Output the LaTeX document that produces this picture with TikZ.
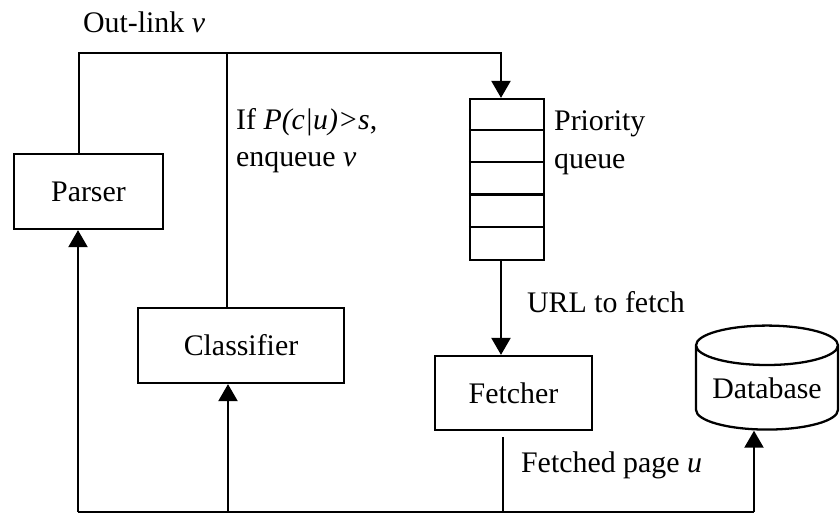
\documentclass[tikz,border=0pt]{standalone}
\usepackage{fontspec}
\setmainfont{Liberation Serif}
\usetikzlibrary{arrows.meta, shapes.geometric, positioning}
\tikzset{
    box/.style = {draw, rectangle, inner sep=0pt},
    txt/.style = {inner sep=0pt, align=left},
    flow/.style = {-{Triangle[length=0.34cm, width=0.38cm]}}
}

\begin{document}
\begin{tikzpicture}[x=0.02cm, y=-0.02cm, line width=1.3pt, font=\fontsize{17}{21.5}\selectfont]
    \useasboundingbox (0,0) rectangle (840,514);

    \node[box, minimum width=2.98cm, minimum height=1.5cm] (parser) at (88.5,191.5) {Parser};
    \node[box, minimum width=4.12cm, minimum height=1.5cm] (classifier) at (241,345.5) {Classifier};
    \node[box, minimum width=1.48cm, minimum height=3.22cm] (queue) at (507,179.5) {};
    \node[box, minimum width=3.14cm, minimum height=1.48cm] (fetcher) at (513.5,393) {Fetcher};
    \node[draw, cylinder, shape border rotate=90, aspect=0.36, inner sep=0pt,
          minimum width=2.84cm, minimum height=2.08cm] (db) at (767,388) {Database};

    % queue cells
    \foreach \i in {1,...,4}
        \draw (queue.north west) ++(0,\i*32.2) -- ++(74,0);

    \coordinate (outlink) at (79,53);
    \coordinate (turn) at (501,53);
    \coordinate (cl) at (227,53);
    \coordinate (ca) at (228,512);
    \coordinate (bl) at (78,512);
    \coordinate (br) at (754,512);
    \coordinate (fl) at (503,437);

    \draw[flow] (outlink |- parser.north) -- (outlink) -- (turn) -- (turn |- queue.north);
    \draw (cl |- classifier.north) -- (cl);
    \draw[flow] (turn |- queue.south) -- (turn |- fetcher.north);
    \draw (bl) -- (br);
    \draw[flow] (bl) -- (bl |- parser.south);
    \draw[flow] (ca) -- (ca |- classifier.south);
    \draw (fl) -- (fl |- bl);
    \draw[flow] (br) -- (br |- db.south);

    \node[txt, anchor=base west] (outlab) at (82,32) {Out-link \textit{v}};
    \node[txt, anchor=north west] (condlab) at (235,107) {If \textit{P(c|u)>s},\\enqueue \textit{v}};
    \node[txt, anchor=north west] (queuelab) at (553,110) {Priority\\queue};
    \node[txt, anchor=base west] (urllab) at (526,312) {URL to fetch};
    \node[txt, anchor=base west] (pagelab) at (520,472) {Fetched page \textit{u}};
\end{tikzpicture}
\end{document}
